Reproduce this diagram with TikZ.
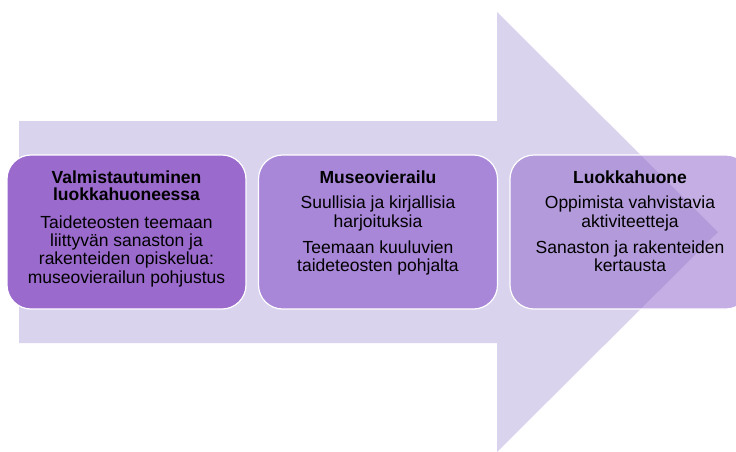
\documentclass[tikz,border=0pt]{standalone}
\usepackage{fontspec}
\setmainfont{Liberation Sans}
\begin{document}
\begin{tikzpicture}[x=1pt,y=-1pt,
  arrowbg/.style={fill=arrowcol,draw=none},
  stepbox/.style={draw=white,line width=1.2pt,rounded corners=24pt,minimum width=239pt,minimum height=154pt,inner sep=0pt},
  ttl/.style={anchor=base,inner sep=0pt,font=\fontsize{17.5}{18}\selectfont\bfseries,text=black},
  txt/.style={anchor=base,inner sep=0pt,font=\fontsize{17.5}{18}\selectfont,text=black}]
\definecolor{arrowcol}{HTML}{DAD3EE}
\definecolor{boxa}{HTML}{9A6ACC}
\definecolor{boxb}{HTML}{A886D8}
\definecolor{boxc}{HTML}{9771CE}
\useasboundingbox (0,0) rectangle (736,451);
\clip (0,0) rectangle (736,451);
\fill[arrowcol] (19,121) -- (497,121) -- (497,12) -- (718,232) -- (497,452) -- (497,343) -- (19,343) -- cycle;
\node[stepbox,fill=boxa] (b1) at (126.5,232) {};
\node[stepbox,fill=boxb] (b2) at (378,232) {};
\node[stepbox,fill=boxc,fill opacity=0.57,minimum width=240pt] (b3) at (630,232) {};
% box 1
\node[ttl] (t1a) at (126.5,183) {Valmistautuminen};
\node[ttl] (t1b) at (126.5,200) {luokkahuoneessa};
\node[txt] (t1c) at (126.5,228) {Taideteosten teemaan};
\node[txt] (t1d) at (126.5,246.3) {liittyvän sanaston ja};
\node[txt] (t1e) at (126.5,264.6) {rakenteiden opiskelua:};
\node[txt] (t1f) at (126.5,283) {museovierailun pohjustus};
% box 2
\node[ttl] (t2a) at (378,183) {Museovierailu};
\node[txt] (t2b) at (378,208) {Suullisia ja kirjallisia};
\node[txt] (t2c) at (378,227) {harjoituksia};
\node[txt] (t2d) at (378,253) {Teemaan kuuluvien};
\node[txt] (t2e) at (378,271) {taideteosten pohjalta};
% box 3
\node[ttl] (t3a) at (630,183) {Luokkahuone};
\node[txt] (t3b) at (630,208) {Oppimista vahvistavia};
\node[txt] (t3c) at (630,227) {aktiviteetteja};
\node[txt] (t3d) at (630,253) {Sanaston ja rakenteiden};
\node[txt] (t3e) at (630,271) {kertausta};
\end{tikzpicture}
\end{document}
